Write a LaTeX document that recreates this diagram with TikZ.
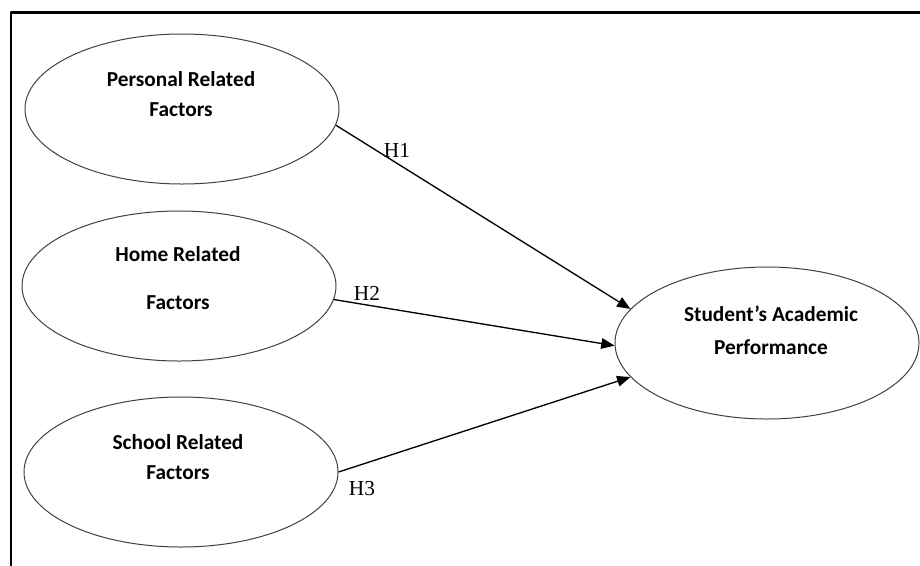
\documentclass[tikz,border=0pt]{standalone}
\usepackage{fontspec}
\setmainfont{Liberation Serif}
\newfontfamily\calibri{Carlito}
\usetikzlibrary{shapes.geometric,arrows.meta}
\tikzset{
  factor/.style={draw=black!75, line width=0.75pt, ellipse, inner sep=0pt,
    minimum width=235.5pt, minimum height=112.5pt},
  factortext/.style={font=\calibri\bfseries\fontsize{16}{23}\selectfont, align=center},
  hyp/.style={font=\fontsize{16}{18}\selectfont},
  path/.style={line width=1pt, -{Triangle[length=10pt,width=8pt]}}
}
\begin{document}
\begin{tikzpicture}[x=0.75pt, y=-0.75pt, line join=round]
			\useasboundingbox (0,0) rectangle (920,565);
			\clip (0,0) rectangle (920,565);
			\draw[line width=1.6pt] (11,12.5) rectangle (930,575);
			\node[factor] (pers) at (182,109) {};
			\node[factor] (home) at (179,286) {};
			\node[factor] (school) at (181,472) {};
			\node[factor, minimum width=228pt, minimum height=114pt] (sap) at (767,343) {};
			\node[factortext] (perstext) at (181,94) {Personal Related\\Factors};
			\node[factortext] (hometext) at (178,278) {Home Related\\[13pt]Factors};
			\node[factortext] (schooltext) at (178,457) {School Related\\Factors};
			\node[factortext] (saptext) at (771,330) {Student’s Academic\\[2pt]Performance};
			% Mũi tên
			\draw[path] (pers.-6.6) -- (sap.166.5);
			\draw[path] (home.-5.4) -- (sap.181.5);
			\draw[path] (school.-0.4) -- (sap.194);
			\node[hyp] (h1) at (397,150) {H1};
			\node[hyp] (h2) at (367,293) {H2};
			\node[hyp] (h3) at (362,489) {H3};
		\end{tikzpicture}
\end{document}
